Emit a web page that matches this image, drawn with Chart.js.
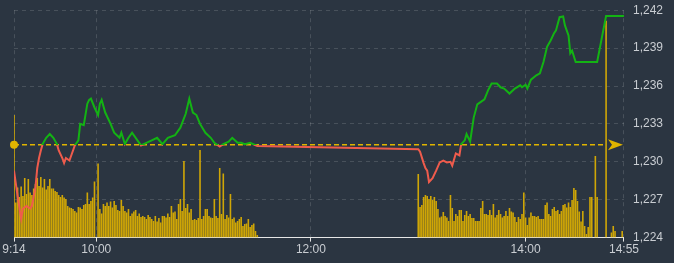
<!DOCTYPE html>
<html>
<head>
    <title>Intraday</title>
    <style>
        body {
            margin: 0;
            background: #2b3541;
        }
    </style>
    <script src="https://cdn.jsdelivr.net/npm/chart.js"></script>
</head>
<body>
    <canvas id="myChart" width="674" height="263"></canvas>
    <script>
        // reference price (previous close)
        var refPrice = 1231.35;

        // price line
        var priceTimes = [
            '9:14', '9:16', '9:18', '9:19', '9:21', '9:23', '9:24', '9:26', '9:27', '9:28',
            '9:29', '9:30', '9:32', '9:34', '9:36', '9:38', '9:39', '9:41', '9:42', '9:43',
            '9:45', '9:46', '9:48', '9:50', '9:51', '9:53', '9:55', '9:56', '9:57', '9:59',
            '10:01', '10:02', '10:03', '10:05', '10:08', '10:10', '10:13', '10:14', '10:16', '10:18',
            '10:20', '10:23', '10:25', '10:28', '10:31', '10:34', '10:37', '10:40', '10:44', '10:47',
            '10:50', '10:52', '10:54', '10:56', '10:58', '11:01', '11:04', '11:06', '11:09', '11:11',
            '11:14', '11:16', '11:19', '11:21', '11:23', '11:26', '11:30',
            '13:00', '13:01', '13:03', '13:04', '13:05', '13:06', '13:08', '13:10', '13:12', '13:14',
            '13:16', '13:18', '13:19', '13:21', '13:23', '13:24', '13:26', '13:27', '13:29', '13:31',
            '13:33', '13:37', '13:39', '13:41', '13:44', '13:46', '13:48', '13:51', '13:54', '13:57',
            '13:58', '14:00', '14:01', '14:03', '14:06', '14:08', '14:10', '14:12', '14:14', '14:16',
            '14:17', '14:19', '14:21', '14:22', '14:24', '14:25', '14:26', '14:28', '14:40', '14:45',
            '14:55'
        ];
        var priceValues = [
            1229.3, 1227.3, 1225.5, 1226.3, 1226.5, 1226.3, 1226.5, 1228.0, 1229.5, 1230.3,
            1230.9, 1231.4, 1231.9, 1232.2, 1231.9, 1231.4, 1230.9, 1230.3, 1229.9, 1230.3,
            1230.1, 1230.5, 1231.3, 1231.7, 1233.0, 1232.9, 1234.6, 1234.9, 1235.0, 1234.3,
            1233.7, 1234.6, 1234.9, 1233.9, 1233.0, 1232.3, 1231.9, 1232.3, 1231.4, 1231.9,
            1232.3, 1231.7, 1231.3, 1231.5, 1231.7, 1231.9, 1231.4, 1231.9, 1232.1, 1232.7,
            1233.8, 1235.0, 1233.9, 1233.7, 1233.0, 1232.3, 1231.9, 1231.5, 1231.2, 1231.4,
            1231.6, 1231.9, 1231.5, 1231.5, 1231.4, 1231.5, 1231.25,
            1231.0, 1230.8, 1229.9, 1229.5, 1229.3, 1228.4, 1228.7, 1229.3, 1229.95, 1230.1,
            1229.95, 1230.0, 1229.7, 1230.66, 1230.5, 1231.4, 1231.7, 1232.2, 1231.6, 1233.5,
            1234.55, 1234.95, 1235.66, 1236.2, 1236.2, 1235.9, 1235.8, 1235.4, 1235.8, 1236.05,
            1235.9, 1236.1, 1235.8, 1236.5, 1236.85, 1237.0, 1237.9, 1239.1, 1239.6, 1240.2,
            1240.4, 1241.45, 1241.5, 1240.8, 1240.0, 1238.6, 1238.8, 1237.9, 1237.9, 1241.55,
            1241.55
        ];

        // volume per minute (millions), morning from 9:14, afternoon from 13:00
        var volStartMorning = '9:14';
        var volMorning = [
            24.5, 7.0, 10.0, 8.1, 10.2, 8.3, 11.9, 8.7, 11.7, 9.0,
            8.5, 9.8, 10.7, 11.9, 10.3, 12.1, 10.0, 11.7, 9.6, 10.3,
            11.7, 9.8, 9.8, 9.3, 9.1, 8.5, 8.1, 8.5, 8.0, 7.7,
            6.3, 6.0, 5.9, 5.7, 5.3, 5.0, 6.1, 6.0, 5.7, 6.5,
            6.7, 9.0, 6.7, 7.3, 8.0, 11.2, null, 14.8,
            5.7, 4.8, 6.7, 6.3, 7.0, 6.3, 7.2, 6.0, 7.3, 6.5,
            5.5, 5.3, 7.5, 6.3, 5.3, 5.0, 5.7, 4.3, 4.8, 5.2,
            5.5, 4.3, 4.8, 4.1, 4.3, 4.1, 3.7, 4.5, 4.1, 3.7,
            3.3, 4.3, 3.2, 3.9, 3.0, 4.3, 4.3, 4.0, 4.8, 4.1,
            6.3, 5.0,
            5.2, 3.7, 6.7, 7.7, 5.3, 15.3, 5.9, 6.7, 5.0, 5.7,
            3.5, 3.7, 3.5, 3.9, 17.5, 3.7,
            4.3, 5.7, 5.7, 4.3, 4.0, 3.9, 7.7, 4.3, 3.9, 13.9,
            4.7, 12.8, 3.7, 4.5, 4.0, 8.7, 3.7, 4.0, 3.0, 3.3,
            3.7, 4.1, 2.3, 2.7, 2.8, 3.7, 2.1, 2.5, 2.8, 1.3,
            0.5
        ];
        var volStartAfternoon = '13:00';
        var volAfternoon = [
            12.7, 6.1, 6.5, 8.1, 8.5, 8.3, 7.7, 8.3, 7.5, 8.1,
            7.3, 5.7, 4.0, 4.2, 5.1, 4.3, 4.0, 3.3, 8.5, 5.9,
            3.3, 4.7, 4.3, 5.5, 5.5, 3.3, 4.5, 5.3, 4.3, 4.7,
            3.9, 3.9, 3.3, 3.3, 3.3, 5.9, 7.3, 4.7, 4.7, 4.5,
            5.5, 4.5, 6.7, 4.0, 4.5, 5.5, 4.7, 4.0,
            4.3, 5.3, 4.3, 5.9, 5.2, 5.0, 4.1, 3.1, 4.1, 3.7,
            4.7, 9.0, 4.0, 2.5, 4.0, 5.0, 4.3, 4.3, 4.1, 4.3,
            3.7, 3.7, 3.7, 6.5, 7.0, 4.7, 4.3, 5.7, 6.1, 5.3,
            5.5, 4.7, 5.3, 6.5,
            6.7, 6.0, 7.0, 6.1, 7.5, 9.9, 9.5, 7.3, 5.2, 3.2,
            5.3, 2.3, 0.7, 2.1, 8.1, 8.1, null, 16.3, 8.1, null,
            null, null, null, 43.3, null, null, 1.0, 2.3, 1.3, null,
            null, null, 1.3, null
        ];

        var timeTicks = ['9:14', '10:00', '12:00', '14:00', '14:55'];
        var priceMin = 1224, priceMax = 1242, priceStep = 3;

        var upColor = '#13b313';
        var downColor = '#ef5b4c';
        var goldColor = '#e0b400';

        function toMin(t) {
            var p = t.split(':');
            return parseInt(p[0]) * 60 + parseInt(p[1]);
        }
        function fmtMin(m) {
            var mm = m % 60;
            return Math.floor(m / 60) + ':' + (mm < 10 ? '0' : '') + mm;
        }

        var pricePoints = priceTimes.map((t, i) => ({ x: toMin(t), y: priceValues[i] }));
        var volPoints = [];
        volMorning.forEach((v, i) => volPoints.push({ x: toMin(volStartMorning) + i, y: v }));
        volAfternoon.forEach((v, i) => volPoints.push({ x: toMin(volStartAfternoon) + i, y: v }));

        // dashed reference line with dot on the left and arrow on the right
        var refLine = {
            id: 'refLine',
            beforeDatasetsDraw(chart) {
                var c = chart.ctx, a = chart.chartArea;
                var py = chart.scales.y.getPixelForValue(refPrice);
                c.save();
                c.strokeStyle = goldColor;
                c.lineWidth = 1.5;
                c.setLineDash([5, 3]);
                c.beginPath();
                c.moveTo(a.left, py);
                c.lineTo(a.right - 19, py);
                c.stroke();
                c.restore();
            },
            afterDatasetsDraw(chart) {
                var c = chart.ctx, a = chart.chartArea;
                var py = chart.scales.y.getPixelForValue(refPrice);
                c.save();
                c.fillStyle = goldColor;
                c.beginPath();
                c.arc(a.left, py, 4, 0, Math.PI * 2);
                c.fill();
                c.beginPath();
                c.moveTo(a.right - 1, py);
                c.lineTo(a.right - 16, py - 5.5);
                c.lineTo(a.right - 12, py);
                c.lineTo(a.right - 16, py + 5.5);
                c.closePath();
                c.fill();
                c.restore();
            }
        };

        var gridColor = 'rgba(255,255,255,0.14)';
        var font = { family: 'Liberation Sans, Arial, sans-serif', size: 12 };

        var ctx = document.getElementById('myChart').getContext('2d');
        var myChart = new Chart(ctx, {
            type: 'line',
            data: {
                datasets: [{
                    type: 'line',
                    label: 'Price',
                    data: pricePoints,
                    yAxisID: 'y',
                    borderWidth: 2,
                    pointRadius: 0,
                    tension: 0,
                    borderColor: function (context) {
                        var chart = context.chart;
                        var a = chart.chartArea;
                        if (!a) return upColor;
                        var py = chart.scales.y.getPixelForValue(refPrice);
                        var s = Math.min(Math.max((py - a.top) / (a.bottom - a.top), 0), 1);
                        var g = chart.ctx.createLinearGradient(0, a.top, 0, a.bottom);
                        g.addColorStop(0, upColor);
                        g.addColorStop(s, upColor);
                        g.addColorStop(s, downColor);
                        g.addColorStop(1, downColor);
                        return g;
                    }
                }, {
                    type: 'bar',
                    label: 'Volume',
                    data: volPoints,
                    yAxisID: 'y2',
                    backgroundColor: '#cfa606',
                    borderWidth: 0,
                    barPercentage: 0.9,
                    categoryPercentage: 1
                }]
            },
            options: {
                responsive: false,
                devicePixelRatio: 1,
                animation: false,
                layout: { padding: { left: 14, right: 8, top: 0, bottom: 5 } },
                plugins: { legend: { display: false }, tooltip: { enabled: false } },
                scales: {
                    x: {
                        type: 'linear',
                        min: toMin('9:14'),
                        max: toMin('14:55'),
                        offset: false,
                        afterBuildTicks: function (scale) {
                            scale.ticks = timeTicks.map(t => ({ value: toMin(t) }));
                        },
                        ticks: {
                            autoSkip: false,
                            maxRotation: 0,
                            padding: 1,
                            color: '#c9cdd2',
                            font: font,
                            callback: v => fmtMin(v)
                        },
                        grid: {
                            offset: false,
                            color: gridColor,
                            tickColor: '#e6e6e6',
                            tickLength: 4
                        },
                        border: { display: true, color: '#e6e6e6', width: 1, dash: [4, 4] }
                    },
                    y: {
                        position: 'right',
                        min: priceMin,
                        max: priceMax,
                        ticks: {
                            stepSize: priceStep,
                            padding: 3,
                            color: '#c9cdd2',
                            font: font,
                            callback: v => v.toLocaleString('en-US')
                        },
                        // invisible tick marks keep the labels clear of the plot
                        grid: { color: gridColor, tickColor: 'rgba(0,0,0,0)', tickLength: 6 },
                        border: { display: false, dash: [4, 4] }
                    },
                    y2: {
                        display: false,
                        min: 0,
                        max: 45.4
                    }
                }
            },
            plugins: [refLine]
        });
    </script>
</body>
</html>
